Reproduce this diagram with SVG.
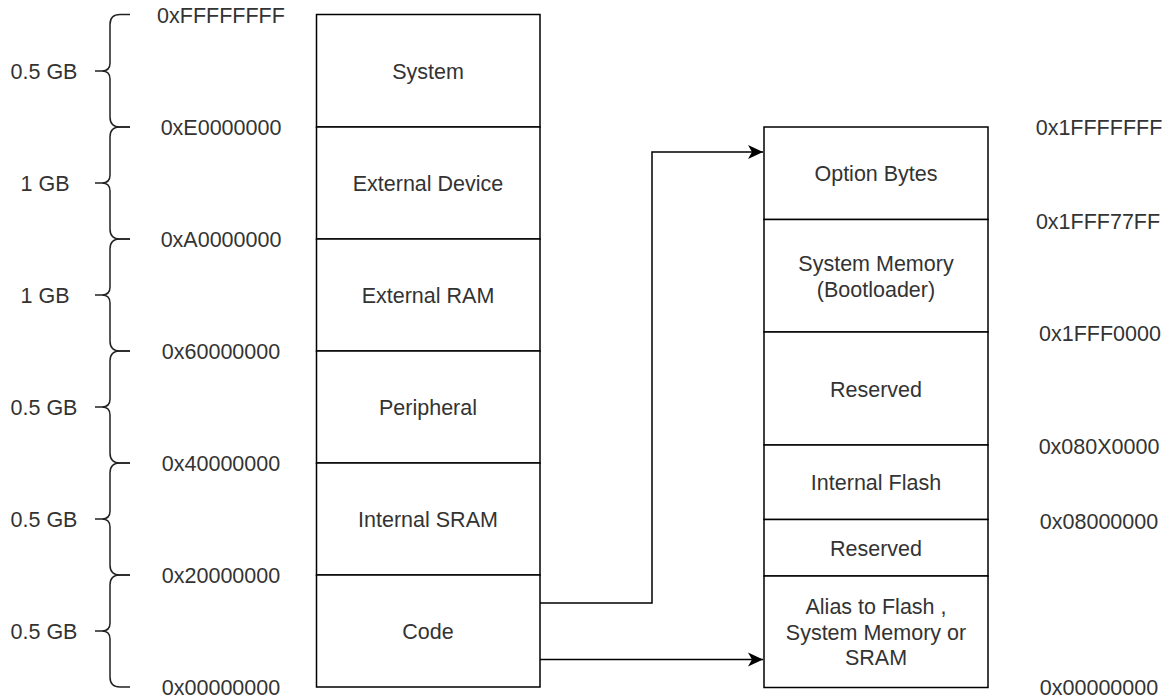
<svg xmlns="http://www.w3.org/2000/svg" width="1169" height="700" viewBox="0 0 1169 700">
<style>
.box{fill:#fff;stroke:#000;stroke-width:1.5}
.t{font-family:"Liberation Sans",Arial,sans-serif;font-size:21.5px;fill:#333;text-anchor:middle;dominant-baseline:central}
.br{fill:none;stroke:#222;stroke-width:1.5}
.cn{fill:none;stroke:#000;stroke-width:1.5}
</style>
<defs>
<marker id="arr" markerWidth="16" markerHeight="16" viewBox="0 0 16 16" refX="15" refY="8" orient="auto" markerUnits="userSpaceOnUse">
<path d="M0,1 L15,8 L0,15 L4,8 Z" fill="#000"/>
</marker>
</defs>
<rect width="1169" height="700" fill="#fff"/>
<g id="braces">
<path class="br" d="M130,14.5 H120 Q110,14.5 110,24.5 V63 Q110,71 102,71 H95 M102,71 Q110,71 110,79 V117 Q110,127 120,127 H130"/>
<path class="br" d="M130,127 H120 Q110,127 110,137 V175 Q110,183 102,183 H95 M102,183 Q110,183 110,191 V229 Q110,239 120,239 H130"/>
<path class="br" d="M130,239 H120 Q110,239 110,249 V287 Q110,295 102,295 H95 M102,295 Q110,295 110,303 V341 Q110,351 120,351 H130"/>
<path class="br" d="M130,351 H120 Q110,351 110,361 V399 Q110,407 102,407 H95 M102,407 Q110,407 110,415 V453 Q110,463 120,463 H130"/>
<path class="br" d="M130,463 H120 Q110,463 110,473 V511 Q110,519 102,519 H95 M102,519 Q110,519 110,527 V565 Q110,575 120,575 H130"/>
<path class="br" d="M130,575 H120 Q110,575 110,585 V623 Q110,631 102,631 H95 M102,631 Q110,631 110,639 V677 Q110,687 120,687 H130"/>
</g>
<g id="size-labels">
<text class="t" x="44" y="72">0.5 GB</text>
<text class="t" x="45" y="184">1 GB</text>
<text class="t" x="45" y="296">1 GB</text>
<text class="t" x="44" y="408">0.5 GB</text>
<text class="t" x="44" y="520">0.5 GB</text>
<text class="t" x="44" y="632">0.5 GB</text>
</g>
<g id="left-addresses">
<text class="t" x="221" y="16">0xFFFFFFFF</text>
<text class="t" x="221" y="128">0xE0000000</text>
<text class="t" x="221" y="240">0xA0000000</text>
<text class="t" x="221" y="352">0x60000000</text>
<text class="t" x="221" y="464">0x40000000</text>
<text class="t" x="221" y="576">0x20000000</text>
<text class="t" x="221" y="688">0x00000000</text>
</g>
<g id="system"><rect class="box" x="316.5" y="14.5" width="223.5" height="112.5"/><text class="t" x="428" y="72">System</text></g>
<g id="external-device"><rect class="box" x="316.5" y="127" width="223.5" height="112"/><text class="t" x="428" y="184">External Device</text></g>
<g id="external-ram"><rect class="box" x="316.5" y="239" width="223.5" height="112"/><text class="t" x="428" y="296">External RAM</text></g>
<g id="peripheral"><rect class="box" x="316.5" y="351" width="223.5" height="112"/><text class="t" x="428" y="408">Peripheral</text></g>
<g id="internal-sram"><rect class="box" x="316.5" y="463" width="223.5" height="112"/><text class="t" x="428" y="520">Internal SRAM</text></g>
<g id="code"><rect class="box" x="316.5" y="575" width="223.5" height="112"/><text class="t" x="428" y="632">Code</text></g>
<g id="option-bytes"><rect class="box" x="764" y="127" width="224" height="92.5"/><text class="t" x="876" y="174">Option Bytes</text></g>
<g id="system-memory"><rect class="box" x="764" y="219.5" width="224" height="112.5"/><text class="t" x="876" y="264">System Memory</text><text class="t" x="876" y="290">(Bootloader)</text></g>
<g id="reserved-1"><rect class="box" x="764" y="332" width="224" height="113"/><text class="t" x="876" y="389.5">Reserved</text></g>
<g id="internal-flash"><rect class="box" x="764" y="445" width="224" height="74.5"/><text class="t" x="876" y="483">Internal Flash</text></g>
<g id="reserved-2"><rect class="box" x="764" y="519.5" width="224" height="56.5"/><text class="t" x="876" y="549">Reserved</text></g>
<g id="alias"><rect class="box" x="764" y="576" width="224" height="111.5"/><text class="t" x="876" y="607">Alias to Flash ,</text><text class="t" x="876" y="632.5">System Memory or</text><text class="t" x="876" y="658">SRAM</text></g>
<g id="right-addresses">
<text class="t" x="1099" y="128">0x1FFFFFFF</text>
<text class="t" x="1098" y="222">0x1FFF77FF</text>
<text class="t" x="1100" y="334">0x1FFF0000</text>
<text class="t" x="1099" y="447">0x080X0000</text>
<text class="t" x="1099" y="522">0x08000000</text>
<text class="t" x="1099" y="688">0x00000000</text>
</g>
<g id="connectors">
<path class="cn" d="M540,603 H652 V152 H763" marker-end="url(#arr)"/>
<path class="cn" d="M540,659.5 H763" marker-end="url(#arr)"/>
</g>
</svg>
